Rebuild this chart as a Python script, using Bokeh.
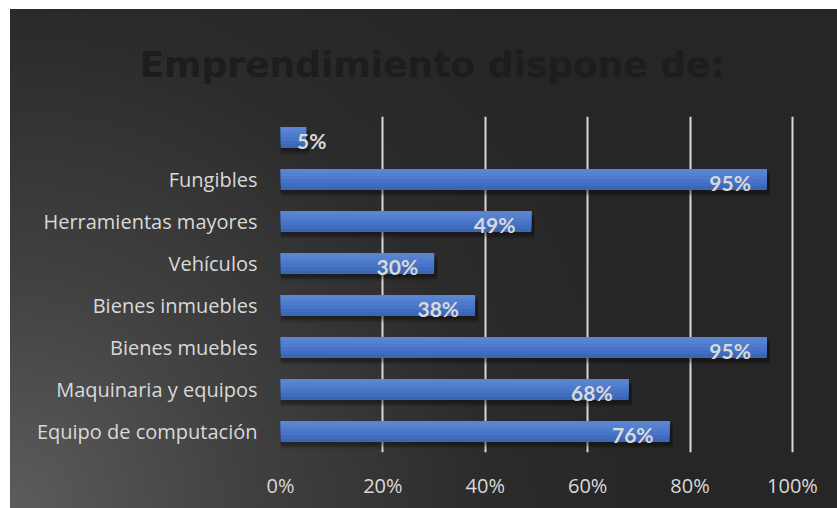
from bokeh.plotting import figure
from bokeh.models import FactorRange, FixedTicker, PrintfTickFormatter, Grid, ColumnDataSource
from bokeh.core.properties import value
from bokeh.transform import dodge
from bokeh.embed import file_html
from bokeh.resources import INLINE

# Data (bottom to top)
categories = ["Equipo de computación", "Maquinaria y equipos", "Bienes muebles",
              "Bienes inmuebles", "Vehículos", "Herramientas mayores", "Fungibles", " "]
values = [76, 68, 95, 38, 30, 49, 95, 5]
x_ticks = [0, 20, 40, 60, 80, 100]
title_text = "Emprendimiento dispone de:"

labels = [f"{v}%" for v in values]
small = [v < 10 for v in values]
src = ColumnDataSource(dict(cat=categories, val=values, lab=labels,
                            right=[v + 0.6 for v in values]))

p = figure(width=827, height=499, y_range=FactorRange(factors=categories, range_padding=0),
           x_range=(0, 100.4), output_backend="svg", toolbar_location=None,
           min_border_left=270, min_border_right=43, min_border_top=106, min_border_bottom=56)
p.margin = (9, 0, 0, 10)
p.styles = {"background": "radial-gradient(circle at 0% 100%, #5c5c5c 0%, #404040 25%, #2b2b2b 50%, #262626 70%)"}
p.border_fill_alpha = 0
p.background_fill_alpha = 0
p.outline_line_color = None

p.title.text = title_text
p.title.align = "left"
p.title.offset = -141
p.title.standoff = 64
p.title.text_font = "DejaVu Sans"
p.title.text_font_size = "36px"
p.title.text_font_style = "bold"
p.title.text_color = "#1d1d1d"

p.xgrid.visible = False
p.ygrid.visible = False
p.add_layout(Grid(dimension=0, ticker=FixedTicker(ticks=x_ticks[1:]),
                  grid_line_color="#d9d9d9", grid_line_width=2), "center")

# soft shadow
for off, a in [(-0.08, 0.18), (-0.12, 0.14), (-0.16, 0.1)]:
    p.hbar(y=dodge("cat", off, range=p.y_range), left=0, right="right", height=0.5,
           source=src, fill_color="black", fill_alpha=a, line_color=None)

# gradient bars: nested layers anchored at the top, lighter towards the top
layer_cols = ["#3b66b6", "#416dbf", "#4774c6", "#4d7acb", "#5480d0", "#5a85d5"]
n = len(layer_cols)
for i, c in enumerate(layer_cols):
    hh = 0.5 * (n - i) / n
    p.hbar(y=dodge("cat", 0.25 - hh / 2, range=p.y_range), left=0, right="val", height=hh,
           source=src, fill_color=c, line_color=None)

# data labels
big_src = ColumnDataSource(dict(cat=[c for c, s in zip(categories, small) if not s],
                                val=[v for v, s in zip(values, small) if not s],
                                lab=[l for l, s in zip(labels, small) if not s]))
sm_src = ColumnDataSource(dict(cat=[c for c, s in zip(categories, small) if s],
                               val=[v for v, s in zip(values, small) if s],
                               lab=[l for l, s in zip(labels, small) if s]))
for s, align, xo in [(big_src, "right", -16), (sm_src, "left", -9)]:
    p.text(x="val", y="cat", text="lab", source=s, text_align=align, text_baseline="middle",
           x_offset=xo, y_offset=3, text_color="#d9d9d9", text_font_size="21px",
           text_font_style="bold", text_font=value("Lato"))

# axes
p.xaxis.ticker = FixedTicker(ticks=x_ticks)
p.xaxis.formatter = PrintfTickFormatter(format="%d%%")
for ax in (p.xaxis, p.yaxis):
    ax.axis_line_color = None
    ax.major_tick_line_color = None
    ax.minor_tick_line_color = None
    ax.major_label_text_color = "#d9d9d9"
    ax.major_label_text_font = "Open Sans"
    ax.major_label_text_font_size = "20px"
p.xaxis.major_label_standoff = 13
p.yaxis.major_label_standoff = 17

open("out.html", "w").write(file_html(p, INLINE))
